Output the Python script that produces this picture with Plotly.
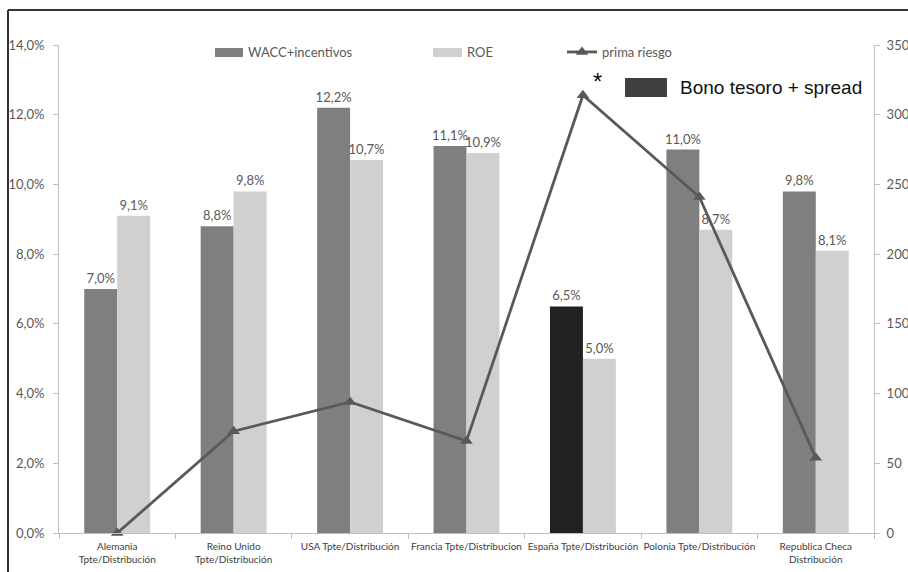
import plotly.graph_objects as go

categories = ["Alemania<br>Tpte/Distribución", "Reino Unido<br>Tpte/Distribución",
              "USA Tpte/Distribución", "Francia Tpte/Distribucion",
              "España Tpte/Distribución", "Polonia Tpte/Distribución",
              "Republica Checa<br>Distribución"]
wacc = [0.070, 0.088, 0.122, 0.111, 0.065, 0.110, 0.098]
roe = [0.091, 0.098, 0.107, 0.109, 0.050, 0.087, 0.081]
prima = [0, 73, 94, 66, 314, 241, 54]
wacc_colors = ["#7f7f7f", "#7f7f7f", "#7f7f7f", "#7f7f7f", "#222222", "#7f7f7f", "#7f7f7f"]
y_ticks = [0, 0.02, 0.04, 0.06, 0.08, 0.10, 0.12, 0.14]
y2_ticks = [0, 50, 100, 150, 200, 250, 300, 350]

W, H = 908, 572
ML, MR, MT, MB = 59, 34, 45, 39
PW, PH = W - ML - MR, H - MT - MB

def px(x):
    return (x - ML) / PW

def py(y):
    return 1 - (y - MT) / PH

FONT = "Lato, Open Sans, sans-serif"
lab_font = dict(family=FONT, size=13, color="#595959")

fig = go.Figure()
fig.add_trace(go.Bar(x=categories, y=wacc, name="WACC+incentivos",
                     marker=dict(color=wacc_colors, line=dict(width=0)),
                     texttemplate="%{y:.1%}", textposition="outside", constraintext="none",
                     textfont=lab_font, cliponaxis=False, showlegend=False))
fig.add_trace(go.Bar(x=categories, y=roe, name="ROE",
                     marker=dict(color="#d0d0d0", line=dict(width=0)),
                     texttemplate="%{y:.1%}", textposition="outside", constraintext="none",
                     textfont=lab_font, cliponaxis=False, showlegend=False))
fig.add_trace(go.Scatter(x=categories, y=prima, name="prima riesgo", yaxis="y2",
                         mode="lines+markers",
                         line=dict(color="#595959", width=2.8),
                         marker=dict(symbol="triangle-up", size=11, color="#595959"),
                         cliponaxis=False, showlegend=True))

# manual legend swatches for the bar series
legend_items = [("WACC+incentivos", "#7f7f7f", 215, 243), ("ROE", "#d0d0d0", 433, 462)]
shapes = [
    dict(type="line", xref="paper", yref="paper", x0=px(8), x1=px(950), y0=py(10), y1=py(10),
         line=dict(color="#333333", width=2)),
    dict(type="line", xref="paper", yref="paper", x0=px(8), x1=px(8), y0=py(10), y1=py(620),
         line=dict(color="#333333", width=2)),
    dict(type="rect", xref="paper", yref="paper",
         x0=px(625), x1=px(667), y0=py(78), y1=py(97),
         line=dict(width=0), fillcolor="#404040"),
]
annotations = [
    dict(text="Bono tesoro + spread", xref="paper", yref="paper",
         x=px(678), y=py(87), xanchor="left", yanchor="middle", showarrow=False,
         font=dict(family="Liberation Sans, Arial, sans-serif", size=19, color="#111111")),
    dict(text="*", xref="paper", yref="paper",
         x=px(597), y=py(82), xanchor="center", yanchor="middle", showarrow=False,
         font=dict(family="Liberation Sans, Arial, sans-serif", size=24, color="#111111")),
]
for name, col, x0, x1 in legend_items:
    shapes.append(dict(type="rect", xref="paper", yref="paper", x0=px(x0), x1=px(x1),
                       y0=py(48), y1=py(57), line=dict(width=0), fillcolor=col))
    annotations.append(dict(text=name, xref="paper", yref="paper", x=px(x1 + 3), y=py(52),
                            xanchor="left", yanchor="middle", showarrow=False,
                            font=dict(family=FONT, size=13, color="#595959")))

fig.update_layout(
    width=W, height=H,
    margin=dict(l=ML, r=MR, t=MT, b=MB, autoexpand=False),
    paper_bgcolor="white", plot_bgcolor="white",
    separators=", ",
    barmode="group", bargap=0.434, bargroupgap=0,
    font=dict(family=FONT, color="#595959"),
    showlegend=True,
    xaxis=dict(showgrid=False, showline=True, linecolor="#bfbfbf", linewidth=1,
               ticks="outside", tickson="boundaries", ticklen=5, tickcolor="#bfbfbf",
               tickfont=dict(size=10, color="#404040"), tickangle=0, ticklabelstandoff=4,
               automargin=False),
    yaxis=dict(range=[0, 0.14], tickvals=y_ticks, tickformat=".1%", showgrid=False,
               showline=True, linecolor="#bfbfbf", linewidth=1, ticks="outside",
               ticklen=5, tickcolor="#bfbfbf", zeroline=False, ticklabelstandoff=6,
               tickfont=dict(size=13, color="#595959"), automargin=False),
    yaxis2=dict(range=[0, 350], tickvals=y2_ticks, overlaying="y", side="right",
                showgrid=False, showline=True, linecolor="#bfbfbf", linewidth=1,
                ticks="outside", ticklen=5, tickcolor="#bfbfbf", zeroline=False,
                ticklabelstandoff=4, tickfont=dict(size=13, color="#595959"),
                automargin=False),
    legend=dict(x=px(562), y=py(52), orientation="h", yanchor="middle", xanchor="left",
                font=dict(family=FONT, size=13, color="#595959"), bgcolor="rgba(0,0,0,0)"),
    shapes=shapes,
    annotations=annotations,
)

fig.write_html("out.html")
